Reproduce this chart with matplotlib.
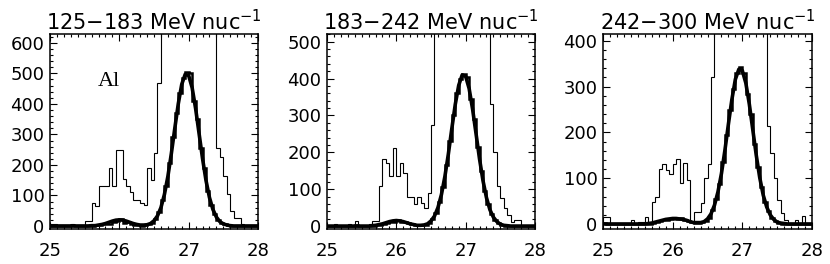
import numpy as np
import matplotlib
matplotlib.use('Agg')
import matplotlib.pyplot as plt
from matplotlib.ticker import MultipleLocator, AutoMinorLocator

# mass bins 25.00 .. 28.00, width 0.05 (60 bins), fit curve sampled at bin edges
mass_lo = 25.0
mass_hi = 28.0
nbins = 60

titles = ['125\u2212183 MeV nuc$^{-1}$', '183\u2212242 MeV nuc$^{-1}$', '242\u2212300 MeV nuc$^{-1}$']
ytop = [629, 521, 415]
ybot = [-10, -8, -11]
ymajor = [100, 100, 100]

# thin histogram: all events
raw1 = [5, 5, 0, 0, 0, 0, 5, 0, 0, 0, 15, 15,
        75, 65, 130, 130, 130, 190, 130, 250, 250, 155, 130, 110, 85, 85, 75, 70, 190, 150, 240, 470,
        1500, 2100, 2600, 3000, 3300, 3500, 3600, 3500, 3300, 3000, 2600, 2100, 1600, 1200, 900, 700,
        255, 225, 165, 105, 50, 25, 25, 5, 0, 0, 0, 0]
raw2 = [0, 0, 5, 0, 0, 0, 5, 0, 15, 0, 0, 0,
        5, 15, 15, 110, 182, 170, 135, 212, 135, 172, 143, 80, 80, 60, 80, 62, 50, 90, 275,
        1200, 1700, 2200, 2600, 2900, 3000, 3000, 2900, 2700, 2400, 2000, 1600, 1200, 900, 700, 560,
        330, 200, 110, 75, 50, 30, 12, 16, 16, 0, 0, 0, 0]
raw3 = [15, 15, 0, 0, 0, 0, 0, 0, 8, 0, 5, 5,
        15, 2, 48, 58, 120, 130, 118, 110, 130, 142, 90, 133, 95, 5, 27, 27, 46, 100, 130, 320,
        1100, 1600, 2000, 2300, 2500, 2600, 2500, 2300, 2000, 1600, 1200, 900, 700, 520, 430,
        215, 155, 100, 52, 24, 8, 0, 0, 8, 0, 18, 0, 0]

# thick histogram: selected events
sel1 = [0, 0, 0, 0, 0, 0, 2, 0, 0, 0, 0, 0,
        0, 2, 3, 5, 8, 6, 12, 15, 22, 10, 14, 6, 4, 2, 1, 2, 5, 10, 24, 45,
        85, 130, 205, 290, 370, 435, 485, 505, 500, 410, 350, 255, 190, 115, 70, 40, 20, 10, 5, 2,
        0, 0, 0, 0, 0, 0, 0, 0]
sel2 = [0, 0, 0, 0, 0, 0, 0, 0, 3, 0, 0, 0,
        0, 1, 2, 4, 6, 8, 10, 12, 16, 12, 10, 8, 5, 3, 2, 2, 4, 8, 18, 35,
        65, 105, 165, 230, 300, 360, 400, 412, 405, 345, 290, 215, 150, 95, 60, 32, 16, 8, 3, 1,
        0, 0, 0, 0, 0, 0, 0, 0]
sel3 = [2, 0, 0, 0, 0, 0, 0, 0, 0, 0, 0, 0,
        0, 1, 2, 4, 6, 8, 9, 10, 12, 11, 12, 9, 7, 4, 3, 3, 4, 7, 14, 30,
        55, 88, 135, 195, 250, 295, 330, 342, 330, 285, 240, 175, 125, 80, 48, 28, 14, 6, 3, 1,
        0, 0, 0, 0, 0, 0, 0, 0]

# fitted curve at the 61 bin edges
fit1 = [0, 0, 0, 0, 0, 0, 0, 0, 0, 0, 0, 0,
        1, 1, 3, 5, 8, 12, 16, 19, 20, 19, 16, 12, 8, 5, 3, 3, 4, 8, 17, 33,
        60, 103, 162, 237, 320, 400, 464, 497, 493, 453, 385, 303, 221, 149, 93, 54, 29, 14, 7, 3,
        1, 0, 0, 0, 0, 0, 0, 0, 0]
fit2 = [0, 0, 0, 0, 0, 0, 0, 0, 0, 0, 0, 0,
        0, 1, 2, 4, 6, 9, 12, 14, 15, 14, 12, 9, 6, 4, 2, 2, 3, 6, 14, 27,
        50, 85, 134, 195, 264, 330, 382, 410, 406, 373, 317, 250, 182, 123, 77, 44, 24, 12, 5, 2,
        1, 0, 0, 0, 0, 0, 0, 0, 0]
fit3 = [0, 0, 0, 0, 0, 0, 0, 0, 0, 0, 0, 0,
        0, 1, 2, 4, 6, 8, 10, 11, 12, 12, 11, 10, 8, 5, 3, 3, 3, 5, 11, 22,
        41, 70, 110, 161, 218, 272, 316, 338, 335, 308, 262, 206, 150, 101, 63, 37, 20, 10, 4, 2,
        1, 0, 0, 0, 0, 0, 0, 0, 0]

raws = [raw1, raw2, raw3]
sels = [sel1, sel2, sel3]
fits = [fit1, fit2, fit3]

# axes boxes in pixels (left, right), figure is 830 x 264
boxes = [(50, 258), (327, 535), (603, 812)]
box_top = 34
box_bot = 229


def setup_axis(ax, i):
    ax.set_xlim(mass_lo, mass_hi)
    ax.set_ylim(ybot[i], ytop[i])
    ax.xaxis.set_major_locator(MultipleLocator(1))
    ax.xaxis.set_minor_locator(MultipleLocator(0.1))
    ax.yaxis.set_major_locator(MultipleLocator(ymajor[i]))
    ax.yaxis.set_minor_locator(AutoMinorLocator(5))
    ax.tick_params(which='both', direction='in', top=True, right=True,
                   labelsize=13, width=0.8)
    ax.tick_params(which='major', length=5)
    ax.tick_params(which='minor', length=2)
    ax.tick_params(axis='x', which='major', pad=9)
    ax.tick_params(axis='y', which='major', pad=4)
    for s in ax.spines.values():
        s.set_linewidth(1.1)


def main():
    fig = plt.figure(figsize=(8.3, 2.64), dpi=100)
    edges = np.linspace(mass_lo, mass_hi, nbins + 1)
    for i in range(3):
        l, r = boxes[i]
        ax = fig.add_axes([l / 830, 1 - box_bot / 264, (r - l) / 830, (box_bot - box_top) / 264])
        ax.stairs(raws[i], edges, color='k', linewidth=0.8)
        ax.stairs(sels[i], edges, color='k', linewidth=1.8)
        ax.plot(edges, fits[i], color='k', linewidth=2.6)
        setup_axis(ax, i)
        ax.set_title(titles[i], fontsize=15, pad=3)
        if i == 0:
            ax.text(25.85, 474, 'Al', family='Liberation Serif', fontsize=16,
                    ha='center', va='center')
    fig.savefig('out.png', dpi=100)


main()
